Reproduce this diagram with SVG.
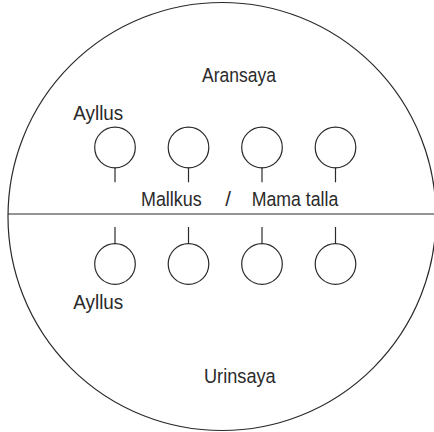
<svg xmlns="http://www.w3.org/2000/svg" width="434" height="432" viewBox="0 0 434 432">
<style>
.ln{fill:none;stroke:#2a2a2a;stroke-width:1.2}
.t{font-family:"Liberation Sans",Arial,sans-serif;font-size:20.5px;fill:#2a2a2a}
</style>
<rect width="434" height="432" fill="#fff"/>
<g id="frame">
<circle class="ln" cx="222" cy="216.5" r="214"/>
<line class="ln" x1="8" y1="214" x2="434" y2="214"/>
</g>
<g id="labels">
<text class="t" x="202" y="82.3" textLength="74" lengthAdjust="spacingAndGlyphs">Aransaya</text>
<text class="t" x="73.3" y="120" textLength="50" lengthAdjust="spacingAndGlyphs">Ayllus</text>
<text class="t"><tspan x="141" y="205.7" textLength="60.7" lengthAdjust="spacingAndGlyphs">Mallkus</tspan><tspan x="219.5" y="205.7"> / </tspan><tspan x="251.7" y="205.7" textLength="86.6" lengthAdjust="spacingAndGlyphs">Mama talla</tspan></text>
<text class="t" x="73.3" y="308.7" textLength="50" lengthAdjust="spacingAndGlyphs">Ayllus</text>
<text class="t" x="204" y="382.7" textLength="71.7" lengthAdjust="spacingAndGlyphs">Urinsaya</text>
</g>
<g id="connectors">
<line class="ln" x1="115" y1="167.5" x2="115" y2="182.3"/>
<line class="ln" x1="188.5" y1="167.5" x2="188.5" y2="182.3"/>
<line class="ln" x1="262" y1="167.5" x2="262" y2="182.3"/>
<line class="ln" x1="335.5" y1="167.5" x2="335.5" y2="182.3"/>
<line class="ln" x1="115" y1="227" x2="115" y2="243.5"/>
<line class="ln" x1="188.5" y1="227" x2="188.5" y2="243.5"/>
<line class="ln" x1="262" y1="227" x2="262" y2="243.5"/>
<line class="ln" x1="335.5" y1="227" x2="335.5" y2="243.5"/>
</g>
<g id="a1"><circle class="ln" cx="115" cy="147.5" r="20.3"/></g>
<g id="a2"><circle class="ln" cx="188.5" cy="147.5" r="20.3"/></g>
<g id="a3"><circle class="ln" cx="262" cy="147.5" r="20.3"/></g>
<g id="a4"><circle class="ln" cx="335.5" cy="147.5" r="20.3"/></g>
<g id="u1"><circle class="ln" cx="115" cy="264" r="20.3"/></g>
<g id="u2"><circle class="ln" cx="188.5" cy="264" r="20.3"/></g>
<g id="u3"><circle class="ln" cx="262" cy="264" r="20.3"/></g>
<g id="u4"><circle class="ln" cx="335.5" cy="264" r="20.3"/></g>
</svg>
